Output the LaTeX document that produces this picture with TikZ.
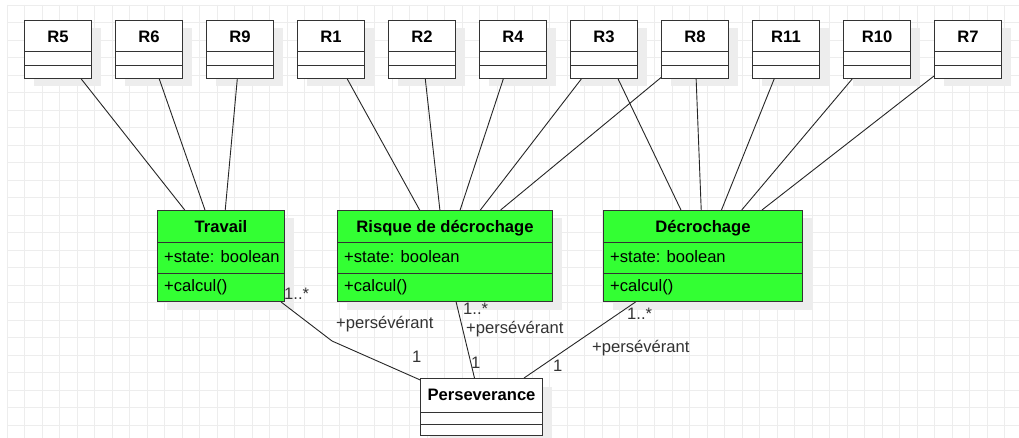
\documentclass[tikz,border=0pt]{standalone}
\usepackage{fontspec}
\setmainfont{Liberation Sans}
\usepackage{tikz}
\usetikzlibrary{shadows,calc}
\definecolor{classgreen}{HTML}{33FF33}
\definecolor{gridgray}{HTML}{EDEDED}
\definecolor{labelgray}{HTML}{333333}

\begin{document}
\begin{tikzpicture}[x=1pt,y=-1pt,
cls/.style={draw=black!80,line width=1pt,fill=white,anchor=north west,inner sep=0pt,
 text height=22pt,font=\fontsize{16.6}{20}\selectfont\bfseries,
 general shadow={fill=black!7,shadow xshift=9pt,shadow yshift=-8pt}},
rcls/.style={cls,minimum width=67pt,text depth=36pt},
gcls/.style={cls,fill=classgreen,text depth=69pt},
member/.style={anchor=base west,inner sep=0pt,font=\fontsize{16.6}{20}\selectfont},
mult/.style={anchor=base west,inner sep=0pt,text=labelgray,font=\fontsize{16.6}{20}\selectfont},
compsep/.style={draw=black!80,line width=1pt},
assoc/.style={line width=0.9pt,black!85},
gridline/.style={gridgray,line width=0.7pt}]
\useasboundingbox (0,0) rectangle (1019,438);
\fill[white] (0,0) rectangle (1019,438);
% background grid
\foreach \i in {0,...,58} \draw[gridline] (7.3+17.5*\i,5) -- (7.3+17.5*\i,438);
\foreach \j in {0,...,24} \draw[gridline] (7.3,5+17.5*\j) -- (1019,5+17.5*\j);

% rule classes
\foreach \n/\x in {5/24,6/115,9/206,1/297,2/388,4/479,3/570,8/661,11/752,10/843,7/934}{
 \node[rcls] (r\n) at (\x,20) {R\n};
 \draw[compsep] ([yshift=-32pt]r\n.north west) -- ([yshift=-32pt]r\n.north east);
 \draw[compsep] ([yshift=-46pt]r\n.north west) -- ([yshift=-46pt]r\n.north east);
}

% state classes
\node[gcls,minimum width=127pt] (travail) at (157,210) {Travail};
\node[gcls,minimum width=215pt] (risque) at (337,210) {Risque de décrochage};
\node[gcls,minimum width=199pt] (decrochage) at (603,210) {Décrochage};
\foreach \c in {travail,risque,decrochage}{
 \draw[compsep] ([yshift=-33pt]\c.north west) -- ([yshift=-33pt]\c.north east);
 \draw[compsep] ([yshift=-63pt]\c.north west) -- ([yshift=-63pt]\c.north east);
 \node[member] (\c-state) at ([xshift=7pt,yshift=-52pt]\c.north west) {+state: boolean};
 \node[member] (\c-calc) at ([xshift=7pt,yshift=-81pt]\c.north west) {+calcul()};
}

\node[cls,minimum width=122pt,text depth=35pt] (perseverance) at (420,378) {Perseverance};
\draw[compsep] ([yshift=-34pt]perseverance.north west) -- ([yshift=-34pt]perseverance.north east);
\draw[compsep] ([yshift=-46pt]perseverance.north west) -- ([yshift=-46pt]perseverance.north east);

% rules to states
\draw[assoc] (r5)--(travail);
\draw[assoc] (r6)--(travail);
\draw[assoc] (r9)--(travail);
\draw[assoc] (r1)--(risque);
\draw[assoc] (r2)--(risque);
\draw[assoc] (r4)--(risque);
\draw[assoc] (r3)--(risque);
\draw[assoc] (r8)--(risque);
\draw[assoc] (r3)--(decrochage);
\draw[assoc] (r8)--(decrochage);
\draw[assoc] (r11)--(decrochage);
\draw[assoc] (r10)--(decrochage);
\draw[assoc] (r7)--(decrochage);

% states to perseverance
\coordinate (bend) at (332,341);
\draw[assoc] (travail)--(bend)--(perseverance);
\draw[assoc] (risque)--(perseverance);
\draw[assoc] (decrochage)--(perseverance);

\node[mult] (travail-m) at (284,299) {1..*};
\node[mult] (travail-r) at (336,328) {+persévérant};
\node[mult] (travail-p) at (412,362) {1};
\node[mult] (risque-m) at (463,314) {1..*};
\node[mult] (risque-r) at (466,333) {+persévérant};
\node[mult] (risque-p) at (471,368) {1};
\node[mult] (decrochage-m) at (627,319) {1..*};
\node[mult] (decrochage-r) at (592,352) {+persévérant};
\node[mult] (decrochage-p) at (553,371) {1};
\end{tikzpicture}
\end{document}
